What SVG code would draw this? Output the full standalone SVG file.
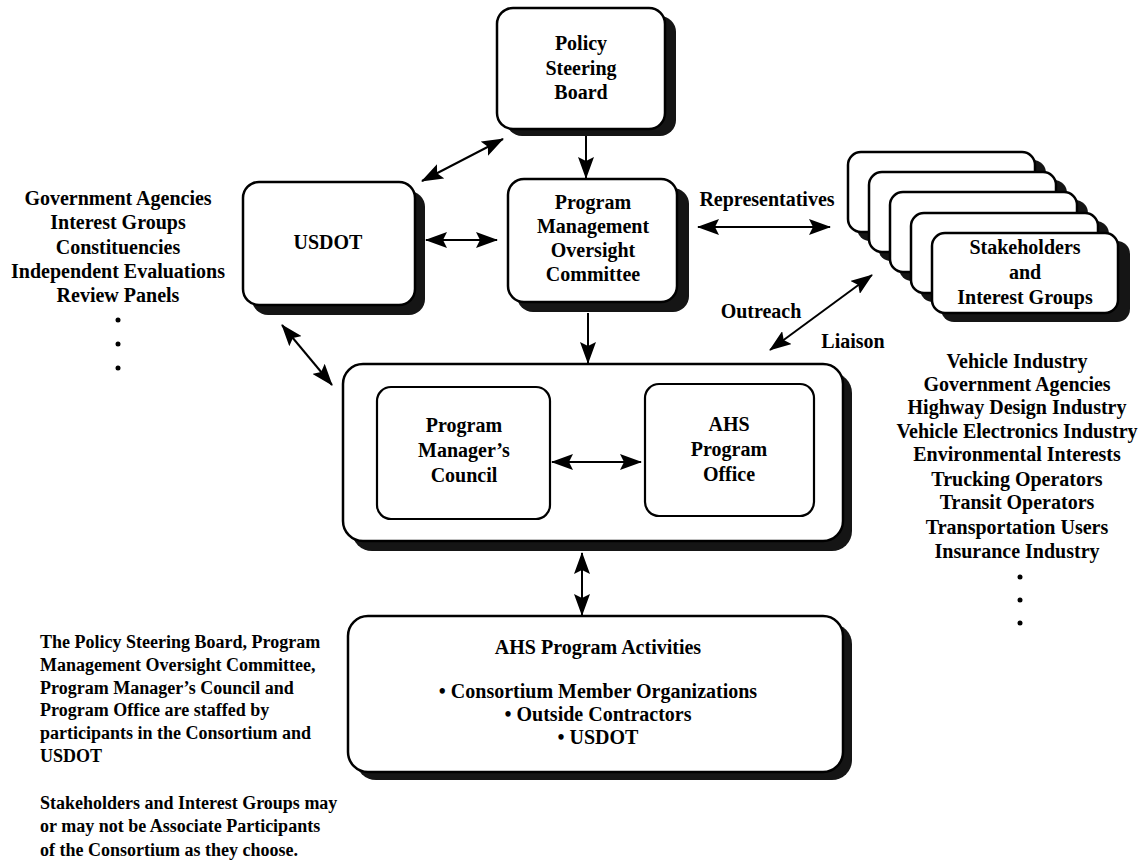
<svg xmlns="http://www.w3.org/2000/svg" width="1147" height="867" viewBox="0 0 1147 867">
<defs>
<style>
.box{fill:#fff;stroke:#000;stroke-width:2.5}
.inner{fill:#fff;stroke:#000;stroke-width:2.2}
.shadow{fill:#151515}
.t{font-family:"Liberation Serif","Times New Roman",serif;font-weight:bold;font-size:20px;fill:#000;text-anchor:middle}
.p{font-family:"Liberation Serif","Times New Roman",serif;font-weight:bold;font-size:18px;fill:#000}
.c{stroke:#000;stroke-width:2;fill:none;marker-end:url(#ah)}
.d{stroke:#000;stroke-width:2;fill:none;marker-start:url(#ah);marker-end:url(#ah)}
</style>
<marker id="ah" viewBox="0 0 22 16" refX="21" refY="8" markerWidth="22" markerHeight="16" markerUnits="userSpaceOnUse" orient="auto-start-reverse">
<path d="M0,0 L22,8 L0,16 L4,8 z" fill="#000"/>
</marker>
</defs>
<rect width="1147" height="867" fill="#fff"/>

<g id="policy-steering-board">
<rect class="shadow" x="506" y="16" width="170" height="120" rx="16"/>
<rect class="box" x="497" y="8" width="168" height="121" rx="16"/>
<text class="t" x="581" y="50">Policy</text>
<text class="t" x="581" y="75">Steering</text>
<text class="t" x="581" y="99">Board</text>
</g>

<g id="usdot">
<rect class="shadow" x="252" y="191" width="173" height="124" rx="16"/>
<rect class="box" x="243" y="182" width="172" height="123" rx="16"/>
<text class="t" x="328" y="249">USDOT</text>
</g>

<g id="pmoc">
<rect class="shadow" x="517" y="188" width="172" height="124" rx="16"/>
<rect class="box" x="508" y="179" width="169" height="123" rx="16"/>
<text class="t" x="593" y="209">Program</text>
<text class="t" x="593" y="233">Management</text>
<text class="t" x="593" y="257">Oversight</text>
<text class="t" x="593" y="281">Committee</text>
</g>

<g id="stakeholders">
<rect class="shadow" x="857" y="160" width="189" height="81" rx="13"/>
<rect class="box" x="848" y="152" width="187" height="80" rx="13"/>
<rect class="shadow" x="878" y="180" width="189" height="81" rx="13"/>
<rect class="box" x="869" y="172" width="187" height="80" rx="13"/>
<rect class="shadow" x="899" y="200" width="189" height="81" rx="13"/>
<rect class="box" x="890" y="192" width="187" height="80" rx="13"/>
<rect class="shadow" x="920" y="221" width="189" height="81" rx="13"/>
<rect class="box" x="911" y="213" width="187" height="80" rx="13"/>
<rect class="shadow" x="941" y="241" width="189" height="81" rx="13"/>
<rect class="box" x="932" y="233" width="186" height="80" rx="13"/>
<text class="t" x="1025" y="254">Stakeholders</text>
<text class="t" x="1025" y="279">and</text>
<text class="t" x="1025" y="304">Interest Groups</text>
</g>

<g id="program-management-group">
<rect class="shadow" x="352" y="373" width="500" height="178" rx="20"/>
<rect class="box" x="343" y="364" width="500" height="177" rx="20"/>
</g>

<g id="program-managers-council">
<rect class="inner" x="377" y="387" width="173" height="132" rx="14"/>
<text class="t" x="464" y="432">Program</text>
<text class="t" x="464" y="457">Manager’s</text>
<text class="t" x="464" y="482">Council</text>
</g>

<g id="ahs-program-office">
<rect class="inner" x="645" y="384" width="169" height="132" rx="14"/>
<text class="t" x="729" y="431">AHS</text>
<text class="t" x="729" y="456">Program</text>
<text class="t" x="729" y="481">Office</text>
</g>

<g id="ahs-program-activities">
<rect class="shadow" x="356" y="624" width="496" height="156" rx="20"/>
<rect class="box" x="348" y="616" width="495" height="156" rx="20"/>
<text class="t" x="598" y="654">AHS Program Activities</text>
<text class="t" x="598" y="698">• Consortium Member Organizations</text>
<text class="t" x="598" y="721">• Outside Contractors</text>
<text class="t" x="598" y="744">• USDOT</text>
</g>

<g id="connectors">
<line class="c" x1="586" y1="136" x2="586" y2="178"/>
<line class="d" x1="422" y1="181" x2="503" y2="139"/>
<line class="d" x1="426" y1="240" x2="497" y2="240"/>
<line class="d" x1="698" y1="227" x2="830" y2="227"/>
<line class="c" x1="588" y1="313" x2="588" y2="363"/>
<line class="d" x1="282" y1="325" x2="332" y2="385"/>
<line class="d" x1="872" y1="275" x2="770" y2="350"/>
<line class="d" x1="552" y1="462" x2="641" y2="462"/>
<line class="d" x1="582" y1="553" x2="582" y2="615"/>
</g>

<g id="connector-labels">
<text class="t" x="767" y="206">Representatives</text>
<text class="t" x="761" y="318">Outreach</text>
<text class="t" x="853" y="348">Liaison</text>
</g>

<g id="left-list">
<text class="t" x="118" y="205">Government Agencies</text>
<text class="t" x="118" y="229">Interest Groups</text>
<text class="t" x="118" y="254">Constituencies</text>
<text class="t" x="118" y="278">Independent Evaluations</text>
<text class="t" x="118" y="302">Review Panels</text>
<circle cx="118" cy="320" r="2.5"/>
<circle cx="118" cy="344" r="2.5"/>
<circle cx="118" cy="368" r="2.5"/>
</g>

<g id="right-list">
<text class="t" x="1017" y="368">Vehicle Industry</text>
<text class="t" x="1017" y="391">Government Agencies</text>
<text class="t" x="1017" y="414">Highway Design Industry</text>
<text class="t" x="1017" y="438">Vehicle Electronics Industry</text>
<text class="t" x="1017" y="461">Environmental Interests</text>
<text class="t" x="1017" y="486">Trucking Operators</text>
<text class="t" x="1017" y="509">Transit Operators</text>
<text class="t" x="1017" y="534">Transportation Users</text>
<text class="t" x="1017" y="558">Insurance Industry</text>
<circle cx="1020" cy="577" r="2.5"/>
<circle cx="1020" cy="600" r="2.5"/>
<circle cx="1020" cy="623" r="2.5"/>
</g>

<g id="notes">
<text class="p" x="40" y="648">The Policy Steering Board, Program</text>
<text class="p" x="40" y="671">Management Oversight Committee,</text>
<text class="p" x="40" y="694">Program Manager’s Council and</text>
<text class="p" x="40" y="716">Program Office are staffed by</text>
<text class="p" x="40" y="739">participants in the Consortium and</text>
<text class="p" x="40" y="762">USDOT</text>
<text class="p" x="40" y="809">Stakeholders and Interest Groups may</text>
<text class="p" x="40" y="832">or may not be Associate Participants</text>
<text class="p" x="40" y="856">of the Consortium as they choose.</text>
</g>
</svg>
